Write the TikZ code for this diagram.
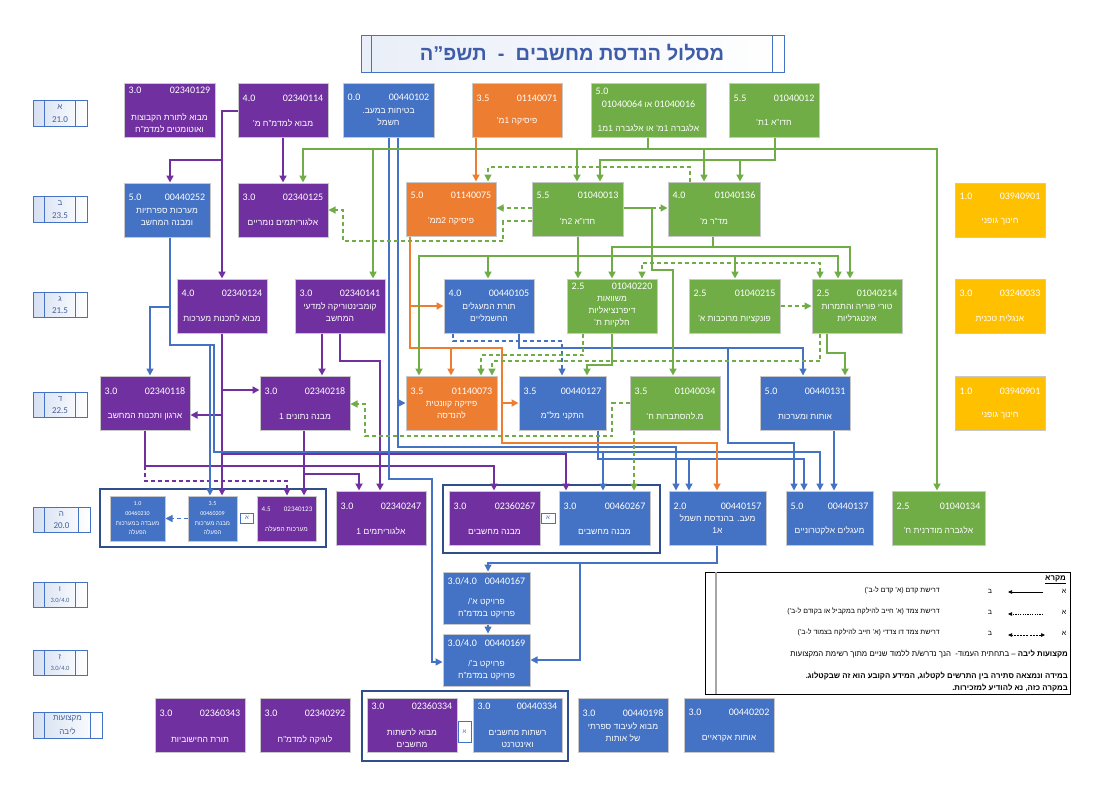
\documentclass[tikz,border=0pt]{standalone}
\usepackage{fontspec}
\setmainfont{Liberation Sans}
\newfontfamily\numf{Carlito}
\usetikzlibrary{arrows.meta}
\TeXXeTstate=1
\newcommand\hb[1]{\beginR#1\endR}
\definecolor{cpur}{HTML}{7030A0}
\definecolor{cblu}{HTML}{4472C4}
\definecolor{cora}{HTML}{ED7D31}
\definecolor{cgrn}{HTML}{70AD47}
\definecolor{cyel}{HTML}{FFC000}
\definecolor{cbord}{HTML}{C8C8C8}
\definecolor{rowtxt}{HTML}{44609C}
\definecolor{titc}{HTML}{3F5CA8}
\definecolor{frmc}{HTML}{2F4E8C}
\tikzset{
 cbox/.style={draw=cbord,line width=1pt,inner sep=0pt},
 numt/.style={text=white,font=\numf\fontsize{10}{12}\selectfont,inner sep=0pt},
 nmt/.style={text=white,font=\fontsize{8.5}{12}\selectfont,align=center,inner sep=0pt},
 smallt/.style={text=white,font=\fontsize{6}{9.6}\selectfont,align=center,inner sep=0pt},
 rowbox/.style={draw=cblu,line width=0.8pt,left color=cblu!22,right color=white,inner sep=0pt},
 rowt/.style={text=rowtxt,font=\fontsize{8}{9}\selectfont,inner sep=0pt},
 lnk/.style={draw=cblu,line width=0.8pt,fill=white,text=cblu,font=\fontsize{6}{7}\selectfont,inner sep=0pt},
 frm/.style={draw=frmc,line width=1.3pt},
 legt/.style={text=black,font=\fontsize{7}{9}\selectfont,inner sep=0pt},
 legb/.style={text=black,font=\bfseries\fontsize{7.8}{9}\selectfont,inner sep=0pt},
 arrowtip/.style={-{Triangle[length=7pt,width=7pt]}},
 purline/.style={draw=cpur,line width=1.8pt,arrowtip},
 purdash/.style={draw=cpur,line width=1.3pt,dash pattern=on 4pt off 3pt,arrowtip},
 bluline/.style={draw=cblu,line width=1.4pt,arrowtip},
 bludash/.style={draw=cblu,line width=1.2pt,dash pattern=on 4pt off 3pt,arrowtip},
 oraline/.style={draw=cora,line width=1.8pt,arrowtip},
 grnline/.style={draw=cgrn,line width=1.8pt,arrowtip},
 grndash/.style={draw=cgrn,line width=1.3pt,dash pattern=on 4pt off 3pt,arrowtip},
 grndash2/.style={draw=cgrn,line width=1.3pt,dash pattern=on 4pt off 3pt,{Triangle[length=7pt,width=7pt]}-{Triangle[length=7pt,width=7pt]}},
}
\newcommand\crs[9]{%
 \node[cbox,fill=#6,minimum width={(#4-#2)*1pt},minimum height={(#5-#3)*1pt}] (#1) at ({(#2+#4)/2},{(#3+#5)/2}) {};
 \crstext{#1}{#7}{#8}#9}
\newcommand\crstext[6]{%
 \node[numt,anchor=west] at ([xshift=5pt,yshift=-#4pt]#1.north west) {#2};
 \node[numt,anchor=east] at ([xshift=-5pt,yshift=-#4pt]#1.north east) {#3};
 \node[nmt] at ([yshift=-#5pt]#1.north) {#6};}
\newcommand\rowlab[7]{%
 \node[rowbox,minimum width={(#4-#2)*1pt},minimum height={(#5-#3)*1pt}] (#1) at ({(#2+#4)/2},{(#3+#5)/2}) {};
 \draw[cblu,line width=0.6pt] ([xshift=12pt]#1.north west) -- ([xshift=12pt]#1.south west);
 \draw[cblu,line width=0.6pt] ([xshift=-12pt]#1.north east) -- ([xshift=-12pt]#1.south east);
 \node[rowt] at ([yshift=-7pt]#1.north) {#6};
 \node[rowt] at ([yshift=7pt]#1.south) {#7};}
\begin{document}
\begin{tikzpicture}[x=1pt,y=-1pt]
\useasboundingbox (0,0) rectangle (1116,785);
\fill[white] (0,0) rectangle (1116,785);

% title
\node[draw=cblu,line width=1pt,left color=cblu!12,right color=white,inner sep=0pt,minimum width=423pt,minimum height=37pt] (title) at (572.5,53.5) {};
\draw[cblu,line width=0.8pt] ([xshift=11pt]title.north west) -- ([xshift=11pt]title.south west);
\draw[cblu,line width=0.8pt] ([xshift=-12pt]title.north east) -- ([xshift=-12pt]title.south east);
\node[text=titc,font=\bfseries\fontsize{20}{22}\selectfont,inner sep=0pt] (titletext) at (572,53) {\hb{מסלול הנדסת מחשבים \ - \ תשפ"ה}};

% row labels
\rowlab{ra}{33}{100}{87}{126}{\hb{א}}{{\numf\fontsize{9}{10}\selectfont 21.0}}
\rowlab{rb}{33}{196}{87}{222}{\hb{ב}}{{\numf\fontsize{9}{10}\selectfont 23.5}}
\rowlab{rc}{33}{292}{87}{317}{\hb{ג}}{{\numf\fontsize{9}{10}\selectfont 21.5}}
\rowlab{rd}{33}{392}{87}{417}{\hb{ד}}{{\numf\fontsize{9}{10}\selectfont 22.5}}
\rowlab{re}{33}{507}{90}{532}{\hb{ה}}{{\numf\fontsize{9}{10}\selectfont 20.0}}
\rowlab{rf}{33}{582}{87}{607}{\hb{ו}}{{\numf\fontsize{6.5}{7}\selectfont 3.0/4.0}}
\rowlab{rg}{33}{650}{87}{675}{\hb{ז}}{{\numf\fontsize{6.5}{7}\selectfont 3.0/4.0}}
\rowlab{rh}{33}{712}{102}{738}{\hb{מקצועות}}{\hb{ליבה}}

% frames
\draw[frm] (100,489) rectangle (326,547);
\draw[frm] (443,485) rectangle (660,553);
\draw[frm] (362,691) rectangle (568,761);

% row 1
\crs{a129}{124}{83}{215}{137}{cpur}{3.0}{02340129}{{8}{41}{\hb{מבוא לתורת הקבוצות}\\\hb{ואוטומטים למדמ"ח}}}
\crs{a114}{238}{83}{328}{137}{cpur}{4.0}{02340114}{{16}{41}{\hb{מבוא למדמ"ח מ'}}}
\crs{a102}{343}{83}{434}{137}{cblu}{0.0}{00440102}{{15}{35}{\hb{בטיחות במעב.}\\\hb{חשמל}}}
\crs{a071}{472}{83}{562}{137}{cora}{3.5}{01140071}{{16}{39}{\hb{פיסיקה 1מ'}}}
\crs{a016}{591}{83}{706}{137}{cgrn}{5.0}{}{{9}{34}{\hb{{\numf\fontsize{10}{12}\selectfont 01040016} או {\numf\fontsize{10}{12}\selectfont 01040064}}\\[12pt]\hb{אלגברה 1מ' או אלגברה 1מ1}}}
\crs{a012}{729}{83}{819}{137}{cgrn}{5.5}{01040012}{{16}{40}{\hb{חדו"א 1ת'}}}

% row 2
\crs{b252}{124}{183}{210}{237}{cblu}{5.0}{00440252}{{15}{34}{\hb{מערכות ספרתיות}\\\hb{ומבנה המחשב}}}
\crs{b125}{238}{183}{328}{237}{cpur}{3.0}{02340125}{{15}{40}{\hb{אלגוריתמים נומריים}}}
\crs{b075}{406}{182}{496}{236}{cora}{5.0}{01140075}{{14}{40}{\hb{פיסיקה 2ממ'}}}
\crs{b013}{532}{182}{623}{236}{cgrn}{5.5}{01040013}{{14}{40}{\hb{חדו"א 2ת'}}}
\crs{b136}{668}{182}{760}{236}{cgrn}{4.0}{01040136}{{14}{40}{\hb{מד"ר מ'}}}
\crs{b901}{955}{183}{1045}{237}{cyel}{1.0}{03940901}{{14}{39}{\hb{חינוך גופני}}}

% row 3
\crs{c124}{177}{279}{267}{333}{cpur}{4.0}{02340124}{{15}{40}{\hb{מבוא לתכנות מערכות}}}
\crs{c141}{295}{279}{385}{333}{cpur}{3.0}{02340141}{{15}{34}{\hb{קומבינטוריקה למדעי}\\\hb{המחשב}}}
\crs{c105}{444}{279}{534}{333}{cblu}{4.0}{00440105}{{15}{34}{\hb{תורת המעגלים}\\\hb{החשמליים}}}
\crs{c220}{567}{279}{657}{333}{cgrn}{2.5}{01040220}{{8}{33}{\hb{משוואות}\\\hb{דיפרנציאליות}\\\hb{חלקיות ת'}}}
\crs{c215}{689}{279}{780}{333}{cgrn}{2.5}{01040215}{{15}{41}{\hb{פונקציות מרוכבות א'}}}
\crs{c214}{812}{279}{902}{333}{cgrn}{2.5}{01040214}{{15}{34}{\hb{טורי פוריה והתמרות}\\\hb{אינטגרליות}}}
\crs{c033}{955}{279}{1045}{333}{cyel}{3.0}{03240033}{{15}{40}{\hb{אנגלית טכנית}}}

% row 4
\crs{d118}{100}{376}{190}{430}{cpur}{3.0}{02340118}{{16}{41}{\hb{ארגון ותכנות המחשב}}}
\crs{d218}{260}{376}{350}{430}{cpur}{3.0}{02340218}{{16}{41}{\hb{מבנה נתונים 1}}}
\crs{d073}{406}{376}{497}{430}{cora}{3.5}{01140073}{{16}{34}{\hb{פיזיקה קוונטית}\\\hb{להנדסה}}}
\crs{d127}{519}{376}{606}{430}{cblu}{3.5}{00440127}{{16}{40}{\hb{התקני מל"מ}}}
\crs{d034}{630}{376}{720}{430}{cgrn}{3.5}{01040034}{{16}{41}{\hb{מ.להסתברות ח'}}}
\crs{d131}{760}{376}{850}{430}{cblu}{5.0}{00440131}{{16}{41}{\hb{אותות ומערכות}}}
\crs{d901}{955}{376}{1045}{430}{cyel}{1.0}{03940901}{{16}{40}{\hb{חינוך גופני}}}

% row 5
\node[cbox,fill=cblu,minimum width=55pt,minimum height=45pt] (e210) at (137.5,518.5) {};
\node[smallt] at (e210) {{\numf 1.0}\\{\numf 00460210}\\\hb{מעבדה במערכות}\\\hb{הפעלה}};
\node[cbox,fill=cblu,minimum width=49pt,minimum height=45pt] (e209) at (212.5,518.5) {};
\node[smallt] at (e209) {{\numf 3.5}\\{\numf 00460209}\\\hb{מבנה מערכות}\\\hb{הפעלה}};
\node[lnk,minimum width=13pt,minimum height=10pt] (lk1) at (247,518) {\hb{א}};
\node[cbox,fill=cpur,minimum width=59pt,minimum height=45pt] (e123) at (286.5,518.5) {};
\node[numt,font=\numf\fontsize{7}{8}\selectfont,anchor=west] at ([xshift=5pt,yshift=-14pt]e123.north west) {4.5};
\node[numt,font=\numf\fontsize{7}{8}\selectfont,anchor=east] at ([xshift=-4pt,yshift=-14pt]e123.north east) {02340123};
\node[smallt,font=\fontsize{6.5}{8}\selectfont] at ([yshift=-33pt]e123.north) {\hb{מערכות הפעלה}};
\crs{e247}{336}{491}{426}{545}{cpur}{3.0}{02340247}{{16}{41}{\hb{אלגוריתמים 1}}}
\crs{e267p}{449}{491}{540}{545}{cpur}{3.0}{02360267}{{16}{41}{\hb{מבנה מחשבים}}}
\node[lnk,minimum width=14pt,minimum height=10pt] (lk2) at (548,518) {\hb{א}};
\crs{e267b}{559}{491}{650}{545}{cblu}{3.0}{00460267}{{16}{41}{\hb{מבנה מחשבים}}}
\crs{e157}{669}{491}{766}{545}{cblu}{2.0}{00440157}{{16}{34}{\hb{מעב. בהנדסת חשמל}\\\hb{א1}}}
\crs{e137}{786}{491}{873}{545}{cblu}{5.0}{00440137}{{16}{40}{\hb{מעגלים אלקטרוניים}}}
\crs{e134}{892}{491}{985}{545}{cgrn}{2.5}{01040134}{{16}{40}{\hb{אלגברה מודרנית ח'}}}

% row 6
\crs{f167}{443}{572}{530}{624}{cblu}{3.0/4.0}{00440167}{{10}{37}{\hb{פרויקט א'/}\\\hb{פרויקט במדמ"ח}}}
\crs{f169}{443}{634}{530}{686}{cblu}{3.0/4.0}{00440169}{{10}{37}{\hb{פרויקט ב'/}\\\hb{פרויקט במדמ"ח}}}

% core courses
\crs{g343}{155}{698}{245}{752}{cpur}{3.0}{02360343}{{16}{42}{\hb{תורת החישוביות}}}
\crs{g292}{260}{698}{350}{752}{cpur}{3.0}{02340292}{{16}{42}{\hb{לוגיקה למדמ"ח}}}
\crs{g334p}{367}{698}{457}{752}{cpur}{3.0}{02360334}{{9}{41}{\hb{מבוא לרשתות}\\\hb{מחשבים}}}
\node[lnk,minimum width=13pt,minimum height=21pt] (lk3) at (464.5,731.5) {\hb{א}};
\crs{g334b}{473}{698}{562}{752}{cblu}{3.0}{00440334}{{9}{41}{\hb{רשתות מחשבים}\\\hb{ואינטרנט}}}
\crs{g198}{578}{698}{668}{752}{cblu}{3.0}{00440198}{{16}{35}{\hb{מבוא לעיבוד ספרתי}\\\hb{של אותות}}}
\crs{g202}{684}{698}{774}{752}{cblu}{3.0}{00440202}{{15}{41}{\hb{אותות אקראיים}}}

% ---------- connectors ----------
% purple
\draw[purline] (a114.west |- 0,111) -- (222,111) -- (c124.north);
\draw[purline] (a114.west |- 0,111) -| (222,160) -| (b252.north -| 170,0);
\draw[purline] (a114.south -| 283,0) -- (b125.north -| 283,0);
\draw[purline] (c124.south) -- (e209.north -| 222,0);
\draw[purline] (c124.south) |- (d218.west |- 0,390);
\draw[purline] (c124.south) |- (d118.east |- 0,415);
\draw[purline] (c124.south) |- (566,454) -- (e267b.north -| 566,0);
\draw[purline] (c141.south -| 322,0) -- (d218.north -| 322,0);
\draw[purline] (c141.south -| 340,0) |- (380,361) -- (e247.north -| 380,0);
\draw[purline] (d218.south -| 304,0) -- (e123.north -| 304,0);
\draw[purline] (d218.south -| 304,0) |- (359,474) -- (e247.north -| 359,0);
\draw[purline] (d118.south -| 145,0) |- (494,466) -- (e267p.north -| 494,0);
\draw[purdash] (d118.south -| 145,0) |- (287,481) -- (e123.north -| 287,0);

% blue
\draw[bluline] (b252.south -| 170,0) |- (150,307) -- (d118.north -| 150,0);
\draw[bluline] (b252.south -| 170,0) |- (210,345) -- (e209.north -| 210,0);
\draw[bluline] (b252.south -| 170,0) |- (214,345) |- (820,452) -- (e137.north -| 820,0);
\draw[bluline] (b252.south -| 170,0) |- (214,345) |- (603,452) -- (e267b.north -| 603,0);
\draw[bluline] (a102.south -| 389,0) |- (432,479) |- (f169.west |- 0,662);
\draw[bluline] (a102.south -| 398,0) |- (d073.west |- 0,403);
\draw[bluline] (a102.south -| 398,0) |- (676,447) -- (e157.north -| 676,0);
\draw[bluline] (c105.south -| 519,0) |- (803,348) -- (d131.north -| 803,0);
\draw[bluline] (c105.south -| 519,0) |- (728,348) |- (794,443) -- (e137.north -| 794,0);
\draw[bludash] (c105.south -| 453,0) |- (562,341) -- (d127.north -| 562,0);
\draw[bluline] (d127.south -| 598,0) |- (804,459) -- (e137.north -| 804,0);
\draw[bluline] (d127.south -| 598,0) |- (689,459) -- (e157.north -| 689,0);
\draw[bluline] (d131.south -| 834,0) -- (e137.north -| 834,0);
\draw[bluline] (e157.south -| 717,0) |- (488,563) -- (f167.north -| 488,0);
\draw[bluline] (e157.south -| 717,0) |- (580,563) |- (f169.east |- 0,660);
\draw[bluline] (f167.south -| 488,0) -- (f169.north -| 488,0);
\draw[bludash] (e209.west) -- (e210.east);

% orange
\draw[oraline] (a071.south -| 476,0) -- (b075.north -| 476,0);
\draw[oraline] (b075.south -| 410,0) |- (c105.west |- 0,306);
\draw[oraline] (b075.south -| 410,0) |- (451,348) -- (d073.north -| 451,0);
\draw[oraline] (b075.south -| 410,0) |- (502,348) |- (d127.west |- 0,403);
\draw[oraline] (b075.south -| 410,0) |- (502,348) |- (717,443) -- (e157.north -| 717,0);

% green solid
\draw[grnline] (a016.south -| 648,0) |- (303,149) -- (b125.north -| 303,0);
\draw[grnline] (a016.south -| 648,0) |- (373,149) -- (c141.north -| 373,0);
\draw[grnline] (a016.south -| 648,0) |- (577,149) -- (b013.north -| 577,0);
\draw[grnline] (a016.south -| 648,0) |- (704,149) -- (b136.north -| 704,0);
\draw[grnline] (a016.south -| 648,0) |- (937,149) -- (e134.north -| 937,0);
\draw[grnline] (a012.south -| 775,0) |- (740,160) -- (b136.north -| 740,0);
\draw[grnline] (a012.south -| 775,0) |- (600,160) -- (b013.north -| 600,0);
\draw[grnline] (b013.south -| 578,0) |- (419,256) -- (d073.north -| 419,0);
\draw[grnline] (b013.south -| 578,0) |- (488,256) -- (c105.north -| 488,0);
\draw[grnline] (b013.south -| 578,0) -- (c220.north -| 578,0);
\draw[grnline] (b013.south -| 578,0) |- (735,256) -- (c215.north -| 735,0);
\draw[grnline] (b013.south -| 578,0) |- (838,256) -- (c214.north -| 838,0);
\draw[grnline] (b013.east |- 0,208) -| (652,270) -| (d034.north -| 673,0);
\draw[grnline] (b136.south -| 713,0) |- (612,247) -- (c220.north -| 612,0);
\draw[grnline] (b136.south -| 713,0) |- (850,247) -- (c214.north -| 850,0);
\draw[grnline] (c220.south -| 612,0) |- (587,365) -- (d127.north -| 587,0);
\draw[grnline] (c214.south -| 827,0) |- (845,353) -- (d131.north -| 845,0);

% green dashed
\draw[grndash2] (c214.north -| 820,0) |- (642,263) -- (c220.north -| 642,0);
\draw[grndash] (c215.east) -- (c214.west);
\draw[grndash] (c220.south -| 583,0) |- (481,355) -- (d073.north -| 481,0);
\draw[grndash] (c214.south -| 820,0) |- (492,361) -- (d073.north -| 492,0);
\draw[grndash] (d034.west |- 0,403) -| (612,436) -| (365,404) -- (d218.east |- 0,404);
\draw[grndash] (d034.south -| 634,0) -- (e267b.north -| 634,0);
\draw[grndash] (b013.west |- 0,208) -- (b075.east |- 0,208);
\draw[grndash] (b013.west |- 0,221) -| (503,241) -| (343,210) -- (b125.east |- 0,210);
\draw[grndash] (b013.east |- 0,208) -- (b136.west |- 0,208);
\draw[grndash] (b136.north -| 690,0) |- (488,167) -- (b075.north -| 488,0);

% ---------- legend ----------
\node[draw=black,line width=0.8pt,fill=white,inner sep=0pt,minimum width=365pt,minimum height=122pt] (legend) at (887.5,633) {};
\draw[gray!70,line width=2pt] ([xshift=11pt]legend.north west) -- ([xshift=11pt]legend.south west);
\node[legb,anchor=east] (mk) at (1066,579) {\hb{מקרא}};
\draw[line width=0.5pt] ([yshift=-0.8pt]mk.south west) -- ([yshift=-0.8pt]mk.south east);
\node[legt] (la1) at (1064,591) {\hb{א}};
\node[legt] (lb1) at (990,591) {\hb{ב}};
\node[legt,anchor=east] (lt1) at (940,590) {\hb{דרישת קדם (א' קדם ל-ב')}};
\coordinate (ls1) at (1043,592);
\coordinate (le1) at (1008,592);
\draw[line width=0.6pt,-{Triangle[length=4pt,width=3.5pt]}] (ls1) -- (le1);
\node[legt] (la2) at (1064,612) {\hb{א}};
\node[legt] (lb2) at (990,612) {\hb{ב}};
\node[legt,anchor=east] (lt2) at (940,611) {\hb{דרישת צמד (א' חייב להילקח במקביל או בקודם ל-ב')}};
\coordinate (ls2) at (1043,614);
\coordinate (le2) at (1008,614);
\draw[line width=0.6pt,dash pattern=on 1.2pt off 1.2pt,-{Triangle[length=4pt,width=3.5pt]}] (ls2) -- (le2);
\node[legt] (la3) at (1064,633) {\hb{א}};
\node[legt] (lb3) at (990,633) {\hb{ב}};
\node[legt,anchor=east] (lt3) at (940,632) {\hb{דרישת צמד דו צדדי (א' חייב להילקח בצמוד ל-ב')}};
\coordinate (ls3) at (1045,635);
\coordinate (le3) at (1008,635);
\draw[line width=0.6pt,dash pattern=on 2pt off 1.2pt,{Triangle[length=4pt,width=3.5pt]}-{Triangle[length=4pt,width=3.5pt]}] (ls3) -- (le3);
\node[legt,font=\fontsize{7.8}{9}\selectfont,anchor=east] (lt4) at (1068,654) {\hb{{\bfseries מקצועות ליבה} – בתחתית העמוד- \ הנך נדרש/ת ללמוד שניים מתוך רשימת המקצועות}};
\node[legb,anchor=east] (lt5) at (1068,676) {\hb{במידה ונמצאה סתירה בין התרשים לקטלוג, המידע הקובע הוא זה שבקטלוג.}};
\node[legb,anchor=east] (lt6) at (1068,688) {\hb{במקרה כזה, נא להודיע למזכירות.}};
\end{tikzpicture}
\end{document}
